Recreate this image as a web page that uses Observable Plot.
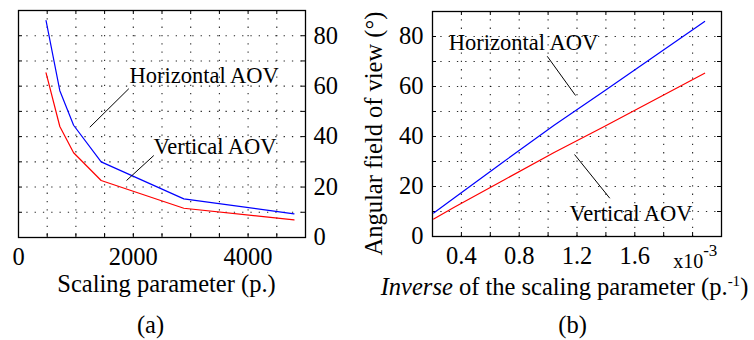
<!DOCTYPE html>
<html>
<head>
<meta charset="utf-8">
<script src="https://cdn.jsdelivr.net/npm/d3@7"></script>
<script src="https://cdn.jsdelivr.net/npm/@observablehq/plot@0.6"></script>
<style>
  html, body { margin: 0; padding: 0; background: #fff; }
  #wrap { position: relative; width: 754px; height: 340px; overflow: hidden; background: #fff; }
  #wrap svg { position: absolute; top: 0; }
  #wrap svg, #wrap svg text, #wrap svg tspan { font-family: "Liberation Serif", "Times New Roman", serif !important; }
</style>
</head>
<body>
<div id="wrap"></div>
<script>
// ---- data ----
const scaling = [480, 720, 960, 1440, 2880, 4800];
const horizontalAOV = [86.0, 58.2, 44.5, 30.0, 15.3, 9.4];
const verticalAOV = [65.3, 44.0, 33.6, 22.6, 11.6, 7.0];

// tick / grid values
const xTicksA = [0, 2000, 4000];
const xGridA = [500, 1000, 1500, 2000, 2500, 3000, 3500, 4000, 4500];
const yTicks = [0, 20, 40, 60, 80];
const yGrid = [10, 20, 30, 40, 50, 60, 70, 80];
const xTicksB = [0.4, 0.8, 1.2, 1.6];          // in units of 1e-3
const xGridB = [0.4, 0.6, 0.8, 1.0, 1.2, 1.4, 1.6, 1.8, 2.0];

// annotation anchors (data units)
const annotA = [
  {x: 1934, y: 61.1, label: "Horizontal AOV"},
  {x: 2352, y: 33.2, label: "Vertical AOV"}
];
const leadersA = [
  {x1: 1922, y1: 59.0, x2: 1242, y2: 43.7},
  {x1: 2357, y1: 32.5, x2: 1882, y2: 22.6}
];
const annotB = [
  {x: 0.313, y: 74.8, label: "Horizontal AOV"},
  {x: 1.148, y: 6.4, label: "Vertical AOV"}
];
const leadersB = [
  {x1: 0.994, y1: 72.1, x2: 1.190, y2: 56.4},
  {x1: 1.183, y1: 32.8, x2: 1.427, y2: 15.3}
];

// tables
const seriesA = scaling.flatMap((s, i) => [
  {s, v: horizontalAOV[i], k: "Horizontal"},
  {s, v: verticalAOV[i], k: "Vertical"}
]);
const seriesB = scaling.flatMap((s, i) => [
  {inv: 1000 / s, v: horizontalAOV[i], k: "Horizontal"},
  {inv: 1000 / s, v: verticalAOV[i], k: "Vertical"}
]);

const FONT = "Liberation Serif";
const gridStyle = {stroke: "#000", strokeOpacity: 0.85, strokeDasharray: "1.3,7", strokeWidth: 1.1};
const color = {Horizontal: "#0000ff", Vertical: "#ff0000"};
const T = {fontFamily: FONT};

// ---- panel (a) ----
const wA = 350, hA = 340, mA = {l: 18, r: 45, t: 10, b: 103};
const fwA = wA - mA.l - mA.r, fhA = hA - mA.t - mA.b;
const plotA = Plot.plot({
  width: wA, height: hA,
  marginLeft: mA.l, marginRight: mA.r, marginTop: mA.t, marginBottom: mA.b,
  style: {fontFamily: FONT, fontSize: "24.5px", background: "transparent", overflow: "visible"},
  x: {domain: [0, 5000], ticks: xTicksA, tickSize: 0, tickPadding: 10, label: null, tickFormat: d => String(d)},
  y: {domain: [0, 90], axis: "right", ticks: yTicks, tickSize: 0, tickPadding: 8, label: null},
  marks: [
    Plot.ruleX(xGridA, {x: d => d, ...gridStyle}),
    Plot.ruleY(yGrid, {y: d => d, ...gridStyle}),
    Plot.tickX(xGridA, {x: d => d, insetTop: fhA - 4, stroke: "#000"}),
    Plot.tickX(xGridA, {x: d => d, insetBottom: fhA - 4, stroke: "#000"}),
    Plot.tickY(yGrid, {y: d => d, insetLeft: fwA - 4, stroke: "#000"}),
    Plot.tickY(yGrid, {y: d => d, insetRight: fwA - 4, stroke: "#000"}),
    Plot.line(seriesA, {x: "s", y: "v", z: "k", stroke: d => color[d.k], strokeWidth: 1.2}),
    Plot.link(leadersA, {x1: "x1", y1: "y1", x2: "x2", y2: "y2", stroke: "#000", strokeWidth: 1}),
    Plot.text(annotA, {x: "x", y: "y", text: "label", textAnchor: "start", lineAnchor: "bottom", fontSize: 22.5, fill: "#000", ...T}),
    Plot.text(["Scaling parameter (p.)"], {text: d => d, frameAnchor: "bottom", dx: 4.5, dy: 54, lineAnchor: "bottom", fontSize: 24.5, ...T}),
    Plot.text(["(a)"], {text: d => d, frameAnchor: "bottom", dx: -11.5, dy: 95, lineAnchor: "bottom", fontSize: 24.5, ...T}),
    Plot.frame({stroke: "#000", strokeWidth: 1.3})
  ]
});
plotA.style.left = "0px";

// ---- panel (b) ----
const wB = 404, hB = 340, mB = {l: 82, r: 33, t: 11, b: 104};
const fwB = wB - mB.l - mB.r, fhB = hB - mB.t - mB.b;
const plotB = Plot.plot({
  width: wB, height: hB,
  marginLeft: mB.l, marginRight: mB.r, marginTop: mB.t, marginBottom: mB.b,
  style: {fontFamily: FONT, fontSize: "24.5px", background: "transparent", overflow: "visible"},
  x: {domain: [0.2, 2.2], ticks: xTicksB, tickSize: 0, tickPadding: 10, label: null, tickFormat: d => d.toFixed(1)},
  y: {domain: [0, 90], axis: "left", ticks: yTicks, tickSize: 0, tickPadding: 9, label: null},
  marks: [
    Plot.ruleX(xGridB, {x: d => d, ...gridStyle}),
    Plot.ruleY(yGrid, {y: d => d, ...gridStyle}),
    Plot.tickX(xGridB, {x: d => d, insetTop: fhB - 4, stroke: "#000"}),
    Plot.tickX(xGridB, {x: d => d, insetBottom: fhB - 4, stroke: "#000"}),
    Plot.tickY(yGrid, {y: d => d, insetLeft: fwB - 4, stroke: "#000"}),
    Plot.tickY(yGrid, {y: d => d, insetRight: fwB - 4, stroke: "#000"}),
    Plot.line(seriesB, {x: "inv", y: "v", z: "k", stroke: d => color[d.k], strokeWidth: 1.2}),
    Plot.link(leadersB, {x1: "x1", y1: "y1", x2: "x2", y2: "y2", stroke: "#000", strokeWidth: 1}),
    Plot.text(annotB, {x: "x", y: "y", text: "label", textAnchor: "start", lineAnchor: "bottom", fontSize: 22.5, fill: "#000", ...T}),
    Plot.text(["Angular field of view (°)"], {text: d => d, frameAnchor: "left", rotate: -90, dx: -51, dy: 9.5, textAnchor: "middle", lineAnchor: "bottom", fontSize: 24.5, ...T}),
    Plot.text(["INVLABEL"], {text: d => d, frameAnchor: "bottom", dx: -12.5, dy: 58, lineAnchor: "bottom", fontSize: 24.5, ...T}),
    Plot.text(["EXPLABEL"], {text: d => d, frameAnchor: "bottom-right", textAnchor: "start", dx: -48.3, dy: 31, lineAnchor: "bottom", fontSize: 20, ...T}),
    Plot.text(["(b)"], {text: d => d, frameAnchor: "bottom", dx: -4.5, dy: 96, lineAnchor: "bottom", fontSize: 24.5, ...T}),
    Plot.frame({stroke: "#000", strokeWidth: 1.3})
  ]
});
plotB.style.left = "350px";

// rich text (italic / superscript) as real SVG tspans
const NS = "http://www.w3.org/2000/svg";
function richify(svg, marker, parts) {
  svg.querySelectorAll("text").forEach(t => {
    if (t.textContent === marker) {
      t.textContent = "";
      parts.forEach(p => {
        const s = document.createElementNS(NS, "tspan");
        s.textContent = p.t;
        if (p.italic) s.setAttribute("font-style", "italic");
        if (p.size) s.setAttribute("font-size", p.size);
        if (p.dy) s.setAttribute("dy", p.dy);
        t.appendChild(s);
      });
    }
  });
}
richify(plotB, "INVLABEL", [
  {t: "Inverse", italic: true},
  {t: " of the scaling parameter (p."},
  {t: "-1", size: 15, dy: -9},
  {t: ")", dy: 9}
]);
richify(plotB, "EXPLABEL", [
  {t: "x10"},
  {t: "-3", size: 17, dy: -12}
]);

[plotA, plotB].forEach(svg => svg.setAttribute("font-family", FONT));

const wrap = document.getElementById("wrap");
wrap.appendChild(plotA);
wrap.appendChild(plotB);
</script>
</body>
</html>
